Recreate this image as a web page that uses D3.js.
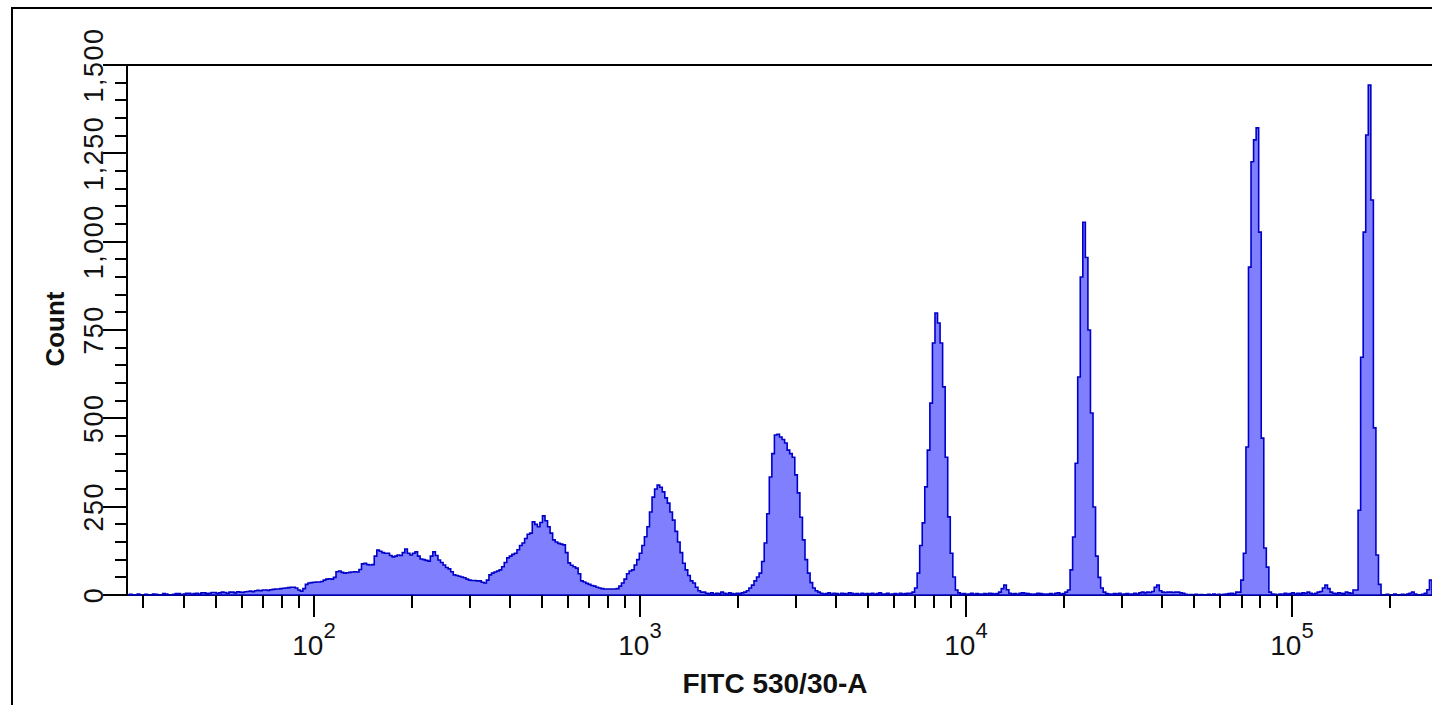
<!DOCTYPE html>
<html>
<head>
<meta charset="utf-8">
<script src="https://cdn.jsdelivr.net/npm/d3@7"></script>
<style>
  body { margin: 0; background: #fff; }
  svg { display: block; }
  text { font-family: "Liberation Sans", Arial, sans-serif; fill: #111; }
</style>
</head>
<body>
<svg id="chart"></svg>
<script>
// axis range of the FITC parameter (log display), 512 channels
var fitcMin = 26.7;
var fitcMax = 268800;
var binCount = 512;

// counts per channel
var counts = [
  0,2,0,0,3,0,0,2,0,0,
  3,2,0,0,4,3,0,0,2,4,
  4,0,3,5,5,2,4,5,3,6,
  6,4,5,7,7,5,6,8,7,5,
  8,8,6,9,8,7,9,10,11,9,
  12,13,12,14,14,13,15,16,17,17,
  18,19,20,21,22,22,20,14,11,18,
  30,34,35,36,37,37,38,42,45,46,
  45,50,66,68,64,62,63,64,65,66,
  65,72,88,90,86,85,86,110,127,124,
  120,118,118,112,108,110,113,112,120,130,
  118,113,118,122,110,102,100,98,96,110,
  122,112,99,92,85,78,74,66,57,55,
  53,51,49,45,42,41,41,40,40,36,
  34,42,57,62,65,68,71,80,92,105,
  110,115,118,128,140,147,160,172,175,207,
  200,193,205,224,210,193,175,156,150,146,
  144,142,120,91,84,80,76,60,40,37,
  33,30,27,25,22,20,18,17,17,17,
  17,17,18,25,34,45,60,68,71,85,
  100,118,140,165,193,235,277,300,311,305,
  292,275,260,235,212,180,150,120,90,71,
  55,40,34,22,12,8,8,5,4,6,
  3,5,4,8,5,3,6,4,3,5,
  4,6,8,12,20,28,40,51,62,95,
  147,230,334,400,453,455,447,440,430,410,
  400,390,340,289,220,156,100,62,35,20,
  12,8,5,3,4,6,3,5,4,2,
  5,4,3,6,5,3,4,2,5,3,
  4,3,5,2,4,6,3,3,5,2,
  3,4,2,5,3,4,5,5,8,20,
  62,140,204,306,410,543,713,798,770,713,
  589,390,221,118,51,14,6,3,4,2,
  3,5,2,4,3,2,4,3,5,4,
  3,4,8,18,28,15,5,3,4,2,
  5,6,5,4,3,2,3,5,4,3,
  2,3,4,2,5,6,3,4,8,14,
  71,164,373,617,900,1055,955,750,515,249,
  110,50,20,8,4,3,2,4,3,5,
  2,3,4,2,3,5,3,6,8,6,
  8,7,10,22,28,12,8,7,8,8,
  7,8,8,6,5,2,0,1,0,2,
  0,1,0,0,2,0,3,0,2,0,
  2,3,4,5,3,8,8,42,118,419,
  928,1226,1288,1322,1027,444,133,79,8,3,
  2,0,3,2,5,3,4,6,3,5,
  4,6,5,8,5,3,5,8,10,20,
  28,18,8,5,4,6,5,4,8,6,
  5,14,14,240,673,1027,1302,1443,1118,473,
  113,30,0,0,2,0,0,3,0,0,
  2,0,3,5,8,3,0,0,2,5,
  15,42
];

var xLabels = ['10', '10', '10', '10'];
var xLabelPowers = ['2', '3', '4', '5'];
var xMajor = [100, 1000, 10000, 100000];
var yMax = 1500;

var width = 1432;
var height = 705;
var plotLeft = 127, plotRight = 1432, plotTop = 65, plotBottom = 595;

var svg = d3.select('#chart')
  .attr('width', width)
  .attr('height', height);

var x = d3.scaleLog()
  .domain([fitcMin, fitcMax])
  .range([plotLeft, plotRight]);

var y = d3.scaleLinear()
  .domain([0, yMax])
  .range([plotBottom, plotTop]);

// outer frame (only top/left visible)
svg.append('line')
  .attr('x1', 12).attr('x2', 12).attr('y1', 8).attr('y2', height)
  .attr('stroke', '#000').attr('stroke-width', 2);
svg.append('line')
  .attr('x1', 11).attr('x2', width).attr('y1', 8).attr('y2', 8)
  .attr('stroke', '#000').attr('stroke-width', 2);

// histogram bins, evenly spaced on the log axis
var ratio = Math.log(fitcMax / fitcMin);
var bins = counts.map(function(c, i){
  return { lo: fitcMin * Math.exp(ratio * i / binCount), count: c };
});
bins.push({ lo: fitcMax, count: counts[counts.length - 1] });

var area = d3.area()
  .curve(d3.curveStepAfter)
  .x(d => x(d.lo))
  .y0(y(0))
  .y1(d => y(d.count));

// axis line under the histogram
svg.append('line')
  .attr('x1', plotLeft).attr('x2', plotRight).attr('y1', plotBottom).attr('y2', plotBottom)
  .attr('stroke', '#000').attr('stroke-width', 2);

svg.append('path')
  .datum(bins)
  .attr('d', area)
  .attr('fill', '#8080ff')
  .attr('stroke', '#0000c8')
  .attr('stroke-width', 1.6)
  .attr('stroke-linejoin', 'miter');

svg.append('line')
  .attr('x1', plotLeft).attr('x2', plotRight).attr('y1', plotTop).attr('y2', plotTop)
  .attr('stroke', '#000').attr('stroke-width', 2);
svg.append('line')
  .attr('x1', plotLeft).attr('x2', plotLeft).attr('y1', plotTop - 1).attr('y2', plotBottom + 1)
  .attr('stroke', '#000').attr('stroke-width', 2);

// x ticks
var xTicks = x.ticks().filter(v => v >= fitcMin && v <= fitcMax);
svg.selectAll('.xtick')
  .data(xTicks)
  .enter()
  .append('line')
  .attr('x1', d => Math.round(x(d)))
  .attr('x2', d => Math.round(x(d)))
  .attr('y1', plotBottom)
  .attr('y2', d => xMajor.indexOf(d) >= 0 ? plotBottom + 22 : plotBottom + 13)
  .attr('stroke', '#000')
  .attr('stroke-width', 2);

var xl = svg.selectAll('.xlabel')
  .data(xMajor)
  .enter()
  .append('text')
  .attr('x', d => x(d))
  .attr('y', 655)
  .attr('text-anchor', 'middle');
xl.append('tspan')
  .style('font-size', '28px')
  .text((d, i) => xLabels[i]);
xl.append('tspan')
  .style('font-size', '22px')
  .attr('dy', -17)
  .text((d, i) => xLabelPowers[i]);

// y ticks
var yTicks = d3.range(0, yMax + 1, 50);
svg.selectAll('.ytick')
  .data(yTicks)
  .enter()
  .append('line')
  .attr('x1', d => d % 250 === 0 ? plotLeft - 24 : plotLeft - 12)
  .attr('x2', plotLeft)
  .attr('y1', d => Math.round(y(d)))
  .attr('y2', d => Math.round(y(d)))
  .attr('stroke', '#000')
  .attr('stroke-width', 2);

svg.selectAll('.ylabel')
  .data(yTicks.filter(d => d % 250 === 0))
  .enter()
  .append('text')
  .attr('transform', d => 'translate(103,' + y(d) + ') rotate(-90)')
  .attr('text-anchor', 'middle')
  .style('font-size', '27px')
  .style('letter-spacing', '1.5px')
  .text(d => d3.format(',')(d));

// axis titles
svg.append('text')
  .attr('transform', 'translate(64,329) rotate(-90)')
  .attr('text-anchor', 'middle')
  .style('font-size', '26px')
  .style('font-weight', 'bold')
  .text('Count');

svg.append('text')
  .attr('x', 775)
  .attr('y', 693)
  .attr('text-anchor', 'middle')
  .style('font-size', '28px')
  .style('font-weight', 'bold')
  .text('FITC 530/30-A');
</script>
</body>
</html>
